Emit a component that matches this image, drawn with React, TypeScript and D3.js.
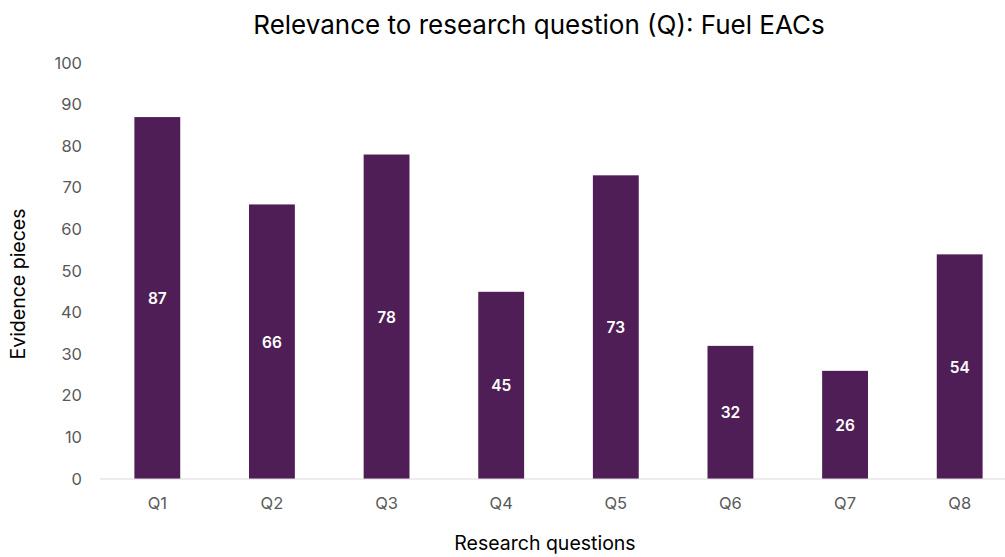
import { useEffect, useRef } from 'react';
import * as d3 from 'd3';

const questions = ['Q1', 'Q2', 'Q3', 'Q4', 'Q5', 'Q6', 'Q7', 'Q8'];
const evidence = [87, 66, 78, 45, 73, 32, 26, 54];
const yTicks = [0, 10, 20, 30, 40, 50, 60, 70, 80, 90, 100];

const W = 1005;
const H = 557;
const FONT = 'Inter, "Open Sans", "Liberation Sans", sans-serif';

export default function App() {
    const svgRef = useRef<SVGSVGElement>(null);

    useEffect(() => {
        if (!svgRef.current) return;
        const svg = d3.select(svgRef.current);
        svg.selectAll('*').remove();

        const x = d3.scaleBand().domain(questions).range([100, 1017]).paddingInner(0.6).paddingOuter(0.3);
        const y = d3.scaleLinear().domain([0, 100]).range([479, 63]);

        // title
        svg.append('text')
            .attr('x', 539).attr('y', 34)
            .attr('text-anchor', 'middle').attr('font-size', 26).attr('fill', '#000')
            .attr('font-family', FONT)
            .text('Relevance to research question (Q): Fuel EACs');

        // y tick labels
        svg.selectAll('.ytick')
            .data(yTicks)
            .join('text')
            .attr('class', 'ytick')
            .attr('x', 82).attr('y', d => y(d) + 5.5)
            .attr('text-anchor', 'end').attr('font-size', 16.5).attr('fill', '#595959')
            .attr('font-family', FONT)
            .text(d => d);

        // bars
        svg.selectAll('.bar')
            .data(evidence)
            .join('rect')
            .attr('class', 'bar')
            .attr('x', (_, i) => x(questions[i])!)
            .attr('y', d => y(d))
            .attr('width', x.bandwidth())
            .attr('height', d => y(0) - y(d))
            .attr('fill', '#4F1E56');

        // value labels
        svg.selectAll('.val')
            .data(evidence)
            .join('text')
            .attr('class', 'val')
            .attr('x', (_, i) => x(questions[i])! + x.bandwidth() / 2)
            .attr('y', d => (y(d) + y(0)) / 2 + 6)
            .attr('text-anchor', 'middle').attr('font-size', 15.5).attr('font-weight', 600).attr('fill', '#fff')
            .attr('font-family', FONT)
            .text(d => d);

        // baseline
        svg.append('line')
            .attr('x1', 100).attr('x2', W)
            .attr('y1', y(0)).attr('y2', y(0))
            .attr('stroke', '#d9d9d9').attr('stroke-width', 1);

        // x tick labels
        svg.selectAll('.xtick')
            .data(questions)
            .join('text')
            .attr('class', 'xtick')
            .attr('x', d => x(d)! + x.bandwidth() / 2)
            .attr('y', 509)
            .attr('text-anchor', 'middle').attr('font-size', 16.5).attr('fill', '#595959')
            .attr('font-family', FONT)
            .text(d => d);

        // axis titles
        svg.append('text')
            .attr('x', 545).attr('y', 550)
            .attr('text-anchor', 'middle').attr('font-size', 19.5).attr('fill', '#000')
            .attr('font-family', FONT)
            .text('Research questions');

        svg.append('text')
            .attr('transform', 'translate(25,284) rotate(-90)')
            .attr('text-anchor', 'middle').attr('font-size', 19.5).attr('fill', '#000')
            .attr('font-family', FONT)
            .text('Evidence pieces');
    }, []);

    return (
        <svg
            ref={svgRef}
            width={W}
            height={H}
            style={{ position: 'absolute', left: 0, top: 0, background: '#fff' }}
        />
    );
}
